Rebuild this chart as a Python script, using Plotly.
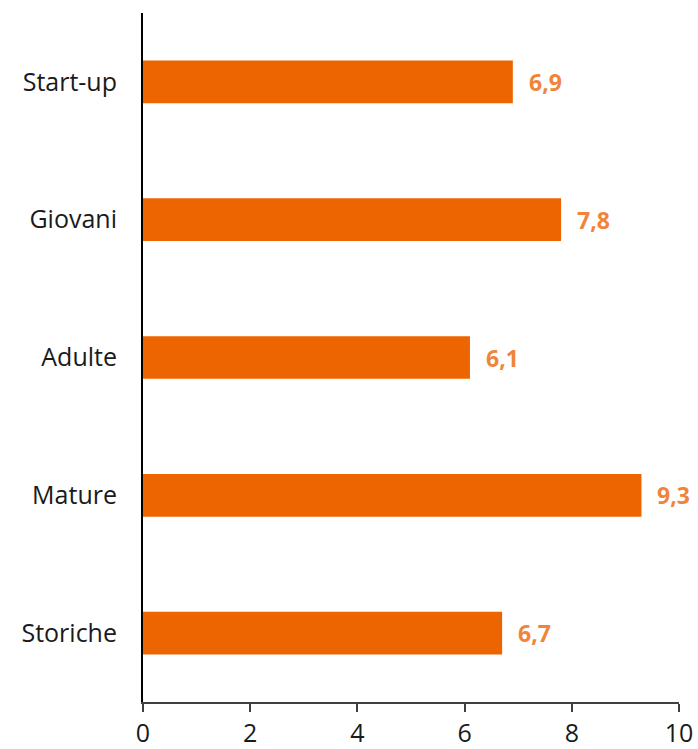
import plotly.graph_objects as go

categories = ['Start-up', 'Giovani', 'Adulte', 'Mature', 'Storiche']
values = [6.9, 7.8, 6.1, 9.3, 6.7]
x_ticks = [0, 2, 4, 6, 8, 10]

bar_color = '#EC6500'
label_color = '#F0843A'
font_name = 'Open Sans'

fig = go.Figure()

fig.add_trace(go.Bar(
    x=values,
    y=categories,
    orientation='h',
    marker=dict(color=bar_color, line=dict(width=0)),
    hoverinfo='skip',
))

# value labels sitting to the right of each bar
for cat, val in zip(categories, values):
    fig.add_annotation(
        x=val, y=cat,
        text='<b>' + ('%.1f' % val).replace('.', ',') + '</b>',
        showarrow=False,
        xanchor='left',
        xshift=14,
        font=dict(family=font_name, size=23, color=label_color),
    )

fig.update_layout(
    width=698,
    height=749,
    margin=dict(l=143, r=19, t=13, b=47),
    paper_bgcolor='white',
    plot_bgcolor='white',
    bargap=0.69,
    showlegend=False,
    font=dict(family=font_name, size=25, color='#1a1a1a'),
)

fig.update_xaxes(
    range=[0, 10],
    tickvals=x_ticks,
    automargin=False,
    showgrid=False,
    zeroline=False,
    showline=True,
    linecolor='#404040',
    linewidth=2,
    ticks='outside',
    ticklen=8,
    tickwidth=2,
    tickcolor='#404040',
    tickfont=dict(size=25, color='#1a1a1a'),
)

fig.update_yaxes(
    autorange='reversed',
    automargin=False,
    showgrid=False,
    zeroline=False,
    showline=True,
    linecolor='black',
    linewidth=2,
    ticks='',
    ticklabelstandoff=19,
    tickfont=dict(size=25, color='#1a1a1a'),
)

# drop the default body margin so the figure fills the window exactly
fig.write_html('out.html', config={'displayModeBar': False},
               post_script="document.body.style.margin = '0';")
